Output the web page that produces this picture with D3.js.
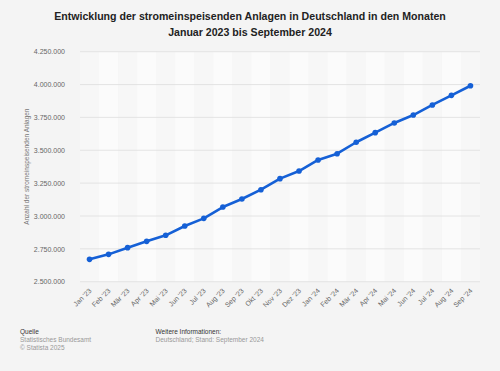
<!DOCTYPE html>
<html>
<head>
<meta charset="utf-8">
<script src="https://cdn.jsdelivr.net/npm/d3@7"></script>
<style>
  body { margin: 0; background: #f4f4f4; }
  svg { display: block; font-family: "Liberation Sans", Arial, sans-serif; }
</style>
</head>
<body>
<div id="chart"></div>
<script>
// months shown on the x axis
var months = ["Jan '23", "Feb '23", "Mär '23", "Apr '23", "Mai '23", "Jun '23", "Jul '23", "Aug '23",
  "Sep '23", "Okt '23", "Nov '23", "Dez '23", "Jan '24", "Feb '24", "Mär '24", "Apr '24",
  "Mai '24", "Jun '24", "Jul '24", "Aug '24", "Sep '24"];
// number of feeding-in installations
var anlagen = [2670000, 2708000, 2759000, 2807000, 2853000, 2924000, 2982000, 3068000,
  3129000, 3200000, 3284000, 3342000, 3426000, 3474000, 3561000, 3634000,
  3708000, 3768000, 3845000, 3918000, 3991000];
var yTicks = [2500000, 2750000, 3000000, 3250000, 3500000, 3750000, 4000000, 4250000];

var width = 500, height = 371;
var plot = {left: 80, right: 480, top: 51.7, bottom: 281.7};

var svg = d3.select("#chart").append("svg")
  .attr("width", width)
  .attr("height", height);

svg.append("rect").attr("width", width).attr("height", height).attr("fill", "#f4f4f4");

// title
var title = svg.append("text")
  .attr("x", width / 2)
  .attr("text-anchor", "middle")
  .attr("font-size", "10.6px")
  .attr("font-weight", "bold")
  .attr("fill", "#222");
title.append("tspan").attr("x", width / 2).attr("y", 20)
  .text("Entwicklung der stromeinspeisenden Anlagen in Deutschland in den Monaten");
title.append("tspan").attr("x", width / 2).attr("y", 36)
  .text("Januar 2023 bis September 2024");

var x = d3.scaleBand().domain(months).range([plot.left, plot.right]);
var y = d3.scaleLinear().domain([2500000, 4250000]).range([plot.bottom, plot.top]);

// alternating column bands
svg.selectAll(".band")
  .data(months)
  .enter().append("rect")
  .attr("class", "band")
  .attr("x", function(d) { return x(d); })
  .attr("y", plot.top)
  .attr("width", x.bandwidth())
  .attr("height", plot.bottom - plot.top)
  .attr("fill", function(d, i) { return i % 2 ? "#fbfbfb" : "#f7f7f7"; });

// horizontal grid + y labels
var fmt = function(v) { return d3.format(",")(v).replace(/,/g, "."); };
svg.selectAll(".grid")
  .data(yTicks)
  .enter().append("line")
  .attr("x1", plot.left).attr("x2", plot.right)
  .attr("y1", function(d) { return y(d); })
  .attr("y2", function(d) { return y(d); })
  .attr("stroke", "#dedede")
  .attr("stroke-width", 0.8);

var yAxis = svg.append("g")
  .attr("transform", "translate(" + (plot.left - 15) + ",0)")
  .call(d3.axisLeft(y).tickValues(yTicks).tickFormat(fmt).tickSize(0).tickPadding(0));
yAxis.select(".domain").remove();
yAxis.selectAll("text")
  .attr("font-size", "7px")
  .attr("fill", "#666")
  .attr("font-family", "Liberation Sans, Arial, sans-serif");

// x labels rotated
var xAxis = svg.append("g")
  .attr("transform", "translate(0," + (plot.bottom + 7) + ")")
  .call(d3.axisBottom(x).tickSize(0).tickPadding(0));
xAxis.select(".domain").remove();
xAxis.selectAll("text")
  .attr("font-size", "7px")
  .attr("fill", "#666")
  .attr("font-family", "Liberation Sans, Arial, sans-serif")
  .attr("text-anchor", "end")
  .attr("dy", "0.5em")
  .attr("transform", "rotate(-45)");

// y axis title
svg.append("text")
  .attr("transform", "translate(29," + ((plot.top + plot.bottom) / 2) + ") rotate(-90)")
  .attr("text-anchor", "middle")
  .attr("font-size", "6.5px")
  .attr("fill", "#777")
  .text("Anzahl der stromeinspeisenden Anlagen");

// line + dots
var cx = function(d, i) { return x(months[i]) + x.bandwidth() / 2; };
var line = d3.line().x(cx).y(function(d) { return y(d); });
svg.append("path")
  .datum(anlagen)
  .attr("d", line)
  .attr("fill", "none")
  .attr("stroke", "#1560d6")
  .attr("stroke-width", 2.6)
  .attr("stroke-linejoin", "round");
svg.selectAll(".dot")
  .data(anlagen)
  .enter().append("circle")
  .attr("cx", cx)
  .attr("cy", function(d) { return y(d); })
  .attr("r", 2.8)
  .attr("fill", "#1560d6");

// footer
var foot = svg.append("g").attr("font-size", "6.5px");
foot.append("text").attr("x", 20).attr("y", 334).attr("fill", "#333").text("Quelle");
foot.append("text").attr("x", 20).attr("y", 342).attr("fill", "#999").text("Statistisches Bundesamt");
foot.append("text").attr("x", 20).attr("y", 350).attr("fill", "#999").text("© Statista 2025");
foot.append("text").attr("x", 155.5).attr("y", 334).attr("fill", "#333").text("Weitere Informationen:");
foot.append("text").attr("x", 155.5).attr("y", 342).attr("fill", "#999").text("Deutschland; Stand: September 2024");
</script>
</body>
</html>
